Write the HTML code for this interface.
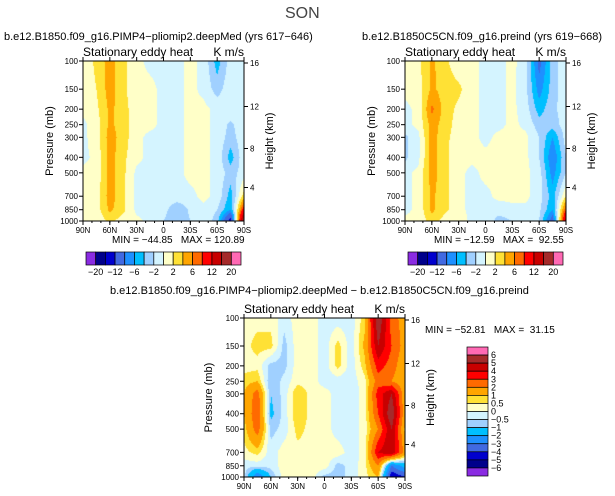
<!DOCTYPE html>
<html><head><meta charset="utf-8"><style>
body{margin:0;background:#fff;}
#root{position:relative;width:615px;height:496px;overflow:hidden;background:#fff;font-family:"Liberation Sans",sans-serif;color:#000;}
.t{position:absolute;white-space:nowrap;line-height:1;}
canvas{position:absolute;}
svg{position:absolute;left:0;top:0;}
</style></head><body>
<div id="root">
<div class="t" style="left:285px;top:6px;font-size:16px;color:#444">SON</div>
<div class="t" style="left:4px;top:32px;font-size:11px">b.e12.B1850.f09_g16.PIMP4−pliomip2.deepMed (yrs 617−646)</div>
<div class="t" style="left:362px;top:32px;font-size:11px">b.e12.B1850C5CN.f09_g16.preind (yrs 619−668)</div>
<div class="t" style="left:110px;top:286px;font-size:11px">b.e12.B1850.f09_g16.PIMP4−pliomip2.deepMed − b.e12.B1850C5CN.f09_g16.preind</div>
<div class="t" style="left:112px;top:236px;font-size:10px">MIN = −44.85 &nbsp; MAX = 120.89</div>
<div class="t" style="left:434px;top:236px;font-size:10px">MIN = −12.59 &nbsp; MAX = &nbsp;92.55</div>
<div class="t" style="left:425px;top:326px;font-size:10px">MIN = −52.81 &nbsp; MAX = &nbsp;31.15</div>
<canvas id="cA" width="161" height="160" style="left:83px;top:61px"></canvas>
<canvas id="cB" width="161" height="160" style="left:405px;top:61px"></canvas>
<canvas id="cC" width="161" height="159" style="left:244px;top:318px"></canvas>
<svg id="ov" width="615" height="496"></svg>
</div>
<script>
const lats=[90,75,60,45,30,15,0,-15,-30,-45,-60,-75,-90];
const plevs=[100,150,200,250,300,400,500,700,850,1000];
const valuesA=[
[0.5,2.5,5,2.5,0.5,-0.5,-0.5,-0.5,0.5,-0.5,-5,-1,-0.5],
[0.5,2,5,2.5,0.5,0.5,-0.5,-0.5,0.5,-0.5,-3,-0.5,-0.5],
[0.5,1.5,4.5,3,0.5,0.5,-0.5,-0.5,0.5,0.5,-0.5,-0.5,-0.5],
[-0.5,1,4.5,3,0.5,0.5,-0.5,-0.5,0.5,0.5,-0.5,-2.5,-0.5],
[-0.5,1,5,3,0.5,-0.5,-0.5,-0.5,0.5,0.5,-0.5,-3,-0.5],
[-0.5,0.5,5,2.5,0.5,-0.5,-0.5,-0.5,0.5,0.5,-0.5,-5,-0.5],
[0.5,0.5,5,2.5,-0.5,-0.5,-0.5,-0.5,0.5,0.5,-0.5,-3,-1],
[0.5,1,5,2.5,-0.5,-0.5,-0.5,-0.5,-0.5,0.5,-0.5,-5,3],
[0.5,1,4.5,2.5,-0.5,-0.5,-1,-4,-1.5,-0.5,-2,-6,10],
[0.5,0.5,2.5,1,0.5,-0.5,-2,-4,-2,-0.5,-3,-14,20]];
const valuesB=[
[0.5,1.5,4.5,2.5,0.5,0.5,-0.5,-0.5,0.5,-1,-9,-3,-0.5],
[0.5,1,4.5,3,2.5,0.5,-0.5,-0.5,0.5,-1.5,-7,-3,-0.5],
[-0.5,0.5,6.5,3,1.5,0.5,-0.5,-0.5,0.5,-1,-5,-2.5,-1],
[-0.5,0.5,5,3,1,0.5,-0.5,-0.5,0.5,-0.5,-3,-3,-1],
[-2.5,-0.5,5,2.5,1,0.5,-0.5,0.5,0.5,0.5,-2,-6,-1],
[-2.5,-0.5,5,2.5,0.5,0.5,0.5,0.5,0.5,0.5,-2,-8,-2],
[-0.5,0.5,5,2.5,0.5,-0.5,0.5,0.5,0.5,0.5,-1,-7,-2],
[-0.5,0.5,4.5,2.5,0.5,-0.5,-0.5,0.5,0.5,0.5,-1,-5,2],
[-0.5,0.5,4.5,2.5,0.5,-0.5,-0.5,-1,-0.5,-0.5,-1.5,-6,8],
[0.5,0.5,3,1,1,-0.5,-0.5,-3,-2,-0.5,-2,-10,14]];
const valuesC=[
[0.3,0.3,0.3,-0.3,0.3,0.3,-0.3,-0.3,-0.3,0.8,6,2.5,1.5],
[0.3,0.7,0.7,-0.7,0.3,0.3,-0.3,0.7,-0.3,1.2,5,3,1.5],
[0.3,0.3,-0.7,-0.7,0.3,0.3,-0.3,0.7,-0.3,0.8,3.5,2.5,1.2],
[0.7,1,-1,-0.3,0.3,0.3,-0.3,-0.3,-0.3,0.3,2.5,2,1.2],
[1,2.5,-1,-0.3,1,0.3,0.3,-0.3,-0.3,0.2,3.5,5,1.2],
[1,2.8,-1.2,-0.3,1,0.3,0.3,-0.3,-0.3,0.2,3,6,1.2],
[0.7,2.5,-0.7,-0.3,0.7,0.3,0.3,-0.3,-0.3,0.2,2,5,0.8],
[0.3,0.7,-0.3,0.3,0.3,0.3,0.3,0.3,-0.3,0.2,4,5,1.5],
[-0.3,-0.3,-0.3,0.3,0.3,0.3,0.3,-0.7,-0.3,0.3,2,-3,-1.5],
[-0.3,-3,-1,0.3,0.3,0.3,-0.7,-0.7,-0.3,0.3,1,-5,-4]];
const levelsTop=[-20,-16,-12,-8,-6,-4,-2,0,2,4,6,8,12,16,20];
const labelsTop=["−20","","−12","","−6","","−2","","2","","6","","12","","20"];
const levelsBottom=[-6,-5,-4,-3,-2,-1,-0.5,0,0.5,1,2,3,4,5,6];
const labelsBottom=["−6","−5","−4","−3","−2","−1","−0.5","0","0.5","1","2","3","4","5","6"];
const colors=["#8a2be2","#00008b","#0000cd","#4169e1","#1e90ff","#00bfff","#a0d0ff","#d4f4ff","#ffffc8","#ffe135","#ffa500","#ff6a00","#ff0000","#c80000","#a52a2a","#ff69b4"];
const pTicks=[100,150,200,250,300,400,500,700,850,1000];
const latTickLabels=["90N","60N","30N","0","30S","60S","90S"];
const kmTicks=[16,12,8,4];

function yOfP(p,h){return h*Math.log10(p/100);}
function colorFor(v,levels){let i=0;while(i<levels.length&&v>=levels[i])i++;return colors[i];}
function sample(grid,lat,p){
  let fx=(90-lat)/15; let ix=Math.min(11,Math.floor(fx)); let tx=fx-ix;
  const lp=Math.log(p); let iy=0;
  while(iy<plevs.length-2&&lp>Math.log(plevs[iy+1]))iy++;
  let ty=(lp-Math.log(plevs[iy]))/(Math.log(plevs[iy+1])-Math.log(plevs[iy]));
  ty=Math.max(0,Math.min(1,ty));
  const a=grid[iy][ix],b=grid[iy][ix+1],c=grid[iy+1][ix],d=grid[iy+1][ix+1];
  return (a*(1-tx)+b*tx)*(1-ty)+(c*(1-tx)+d*tx)*ty;
}
function drawPanel(id,grid,levels){
  const cv=document.getElementById(id),ctx=cv.getContext('2d'),w=cv.width,h=cv.height;
  for(let y=0;y<h;y++){const p=100*Math.pow(10,(y+0.5)/h);
    for(let x=0;x<w;x++){const lat=90-180*(x+0.5)/w;
      ctx.fillStyle=colorFor(sample(grid,lat,p),levels);ctx.fillRect(x,y,1,1);}}
}
drawPanel('cA',valuesA,levelsTop);
drawPanel('cB',valuesB,levelsTop);
drawPanel('cC',valuesC,levelsBottom);

const NS='http://www.w3.org/2000/svg',ov=document.getElementById('ov');
function mk(tag,at,parent){const e=document.createElementNS(NS,tag);for(const k in at)e.setAttribute(k,at[k]);(parent||ov).appendChild(e);return e;}
function txt(x,y,s,size,anchor,rot){const e=mk('text',{x:x,y:y,'font-size':size,'text-anchor':anchor||'start','font-family':'Liberation Sans, sans-serif'});if(rot)e.setAttribute('transform','rotate(-90 '+x+' '+y+')');e.textContent=s;return e;}
const kmOff=[2,45.5,87.5,126.5];
function axes(x0,y0,w,h,tag,pressX,heightX){
  const r=mk('rect',{x:x0,y:y0,width:w,height:h,fill:'none',stroke:'#000','stroke-width':1});
  
  pTicks.forEach(p=>{const y=y0+yOfP(p,h);
    mk('line',{x1:x0-4,x2:x0,y1:y,y2:y,stroke:'#000'});
    const t=txt(x0-5,y+3,String(p),8,'end');});
  kmTicks.forEach((k,i)=>{const y=y0+kmOff[i];
    mk('line',{x1:x0+w,x2:x0+w+4,y1:y,y2:y,stroke:'#000'});
    const t=txt(x0+w+6,y+3,String(k),8,'start');});
  latTickLabels.forEach((s,i)=>{const x=x0+w*i/6;
    mk('line',{x1:x,x2:x,y1:y0+h,y2:y0+h+4,stroke:'#000'});
    mk('line',{x1:x,x2:x,y1:y0,y2:y0-4,stroke:'#000'});
    const t=txt(x,y0+h+12,s,8,'middle');});
  for(let i=0;i<18;i++){const x=x0+w*i/18;mk('line',{x1:x,x2:x,y1:y0+h,y2:y0+h+2,stroke:'#000'});}
  let t=txt(x0,y0-5,'Stationary eddy heat',12,'start');
  t=txt(x0+w,y0-5,'K m/s',12,'end');
  t=txt(pressX,y0+h/2,'Pressure (mb)',11,'middle',true);
  t=txt(heightX,y0+h/2,'Height (km)',11,'middle',true);
}
axes(83,61,161,160,'left',53,273);
axes(405,61,161,160,'right',375,595);
axes(244,318,161,159,'diff',212,434);

function hbar(x0,y0,w,h,tag){
  const bw=w/colors.length;
  colors.forEach((c,i)=>{const r=mk('rect',{x:x0+i*bw,y:y0,width:bw,height:h,fill:c,stroke:'#000','stroke-width':0.7});
    });
  labelsTop.forEach((s,i)=>{if(!s)return;const t=txt(x0+(i+1)*bw,y0+h+10,s,9,'middle');
    });
}
hbar(86,252,155,13,'left');
hbar(408,252,155,13,'right');
(function(){const x0=467,y0=347,w=21,h=129,bh=h/colors.length;
  for(let i=0;i<colors.length;i++){const c=colors[colors.length-1-i];
    const r=mk('rect',{x:x0,y:y0+i*bh,width:w,height:bh,fill:c,stroke:'#000','stroke-width':0.7});
    }
  for(let i=0;i<labelsBottom.length;i++){const s=labelsBottom[labelsBottom.length-1-i];
    const t=txt(x0+w+3,y0+(i+1)*bh+3,s,9,'start');
    }
})();
</script>
</body></html>
